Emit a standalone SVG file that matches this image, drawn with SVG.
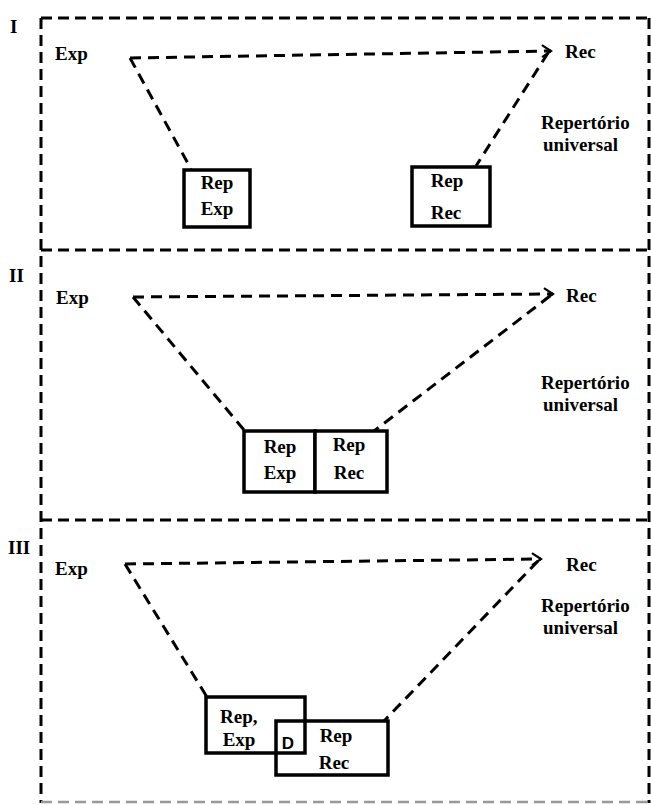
<svg xmlns="http://www.w3.org/2000/svg" width="651" height="805" viewBox="0 0 651 805">
  <style>
    .frame { fill: none; stroke: #000; stroke-width: 3; stroke-dasharray: 11 6; }
    .frame-faint { fill: none; stroke: #999; stroke-width: 2.5; stroke-dasharray: 11 6; }
    .link { fill: none; stroke: #000; stroke-width: 3; stroke-dasharray: 11 7; }
    .box { fill: #fff; stroke: #000; stroke-width: 3.5; }
    .t { font-family: "Liberation Serif", "Times New Roman", serif; font-weight: bold; font-size: 19px; fill: #000; }
    .mid { text-anchor: middle; }
    .d { font-family: "Liberation Sans", Arial, sans-serif; font-weight: bold; font-size: 17px; fill: #000; text-anchor: middle; }
  </style>
  <defs>
    <marker id="chevron" markerUnits="userSpaceOnUse" markerWidth="14" markerHeight="16" refX="10" refY="7" orient="auto">
      <path d="M1,1 L10,7 L1,13" fill="none" stroke="#000" stroke-width="2.2"/>
    </marker>
  </defs>

  <rect width="651" height="805" fill="#fff"/>

  <!-- outer frame and panel separators -->
  <g id="frame">
    <line class="frame" x1="41" y1="18" x2="649" y2="18"/>
    <line class="frame" x1="41" y1="18" x2="41" y2="803"/>
    <line class="frame" x1="649" y1="18" x2="649" y2="803"/>
    <line class="frame" x1="41" y1="250" x2="649" y2="250"/>
    <line class="frame" x1="41" y1="520" x2="649" y2="520"/>
    <line class="frame-faint" x1="41" y1="802" x2="649" y2="802"/>
  </g>

  <!-- panel numbers -->
  <g id="panel-labels">
    <text class="t" x="10" y="33" font-size="17">I</text>
    <text class="t" x="9" y="282" font-size="17">II</text>
    <text class="t" x="8" y="554" font-size="17">III</text>
  </g>

  <!-- connectors -->
  <g id="connectors">
    <!-- panel I -->
    <line class="link" x1="130" y1="58" x2="551" y2="51" marker-end="url(#chevron)"/>
    <line class="link" x1="130" y1="58" x2="191" y2="169"/>
    <line class="link" x1="548" y1="53" x2="476" y2="166"/>
    <!-- panel II -->
    <line class="link" x1="133" y1="297" x2="553" y2="294" marker-end="url(#chevron)"/>
    <line class="link" x1="133" y1="297" x2="244" y2="430"/>
    <line class="link" x1="550" y1="296" x2="374" y2="431"/>
    <!-- panel III -->
    <line class="link" x1="125" y1="564" x2="541" y2="559" marker-end="url(#chevron)"/>
    <line class="link" x1="125" y1="564" x2="207" y2="697"/>
    <line class="link" x1="538" y1="561" x2="384" y2="721"/>
  </g>

  <!-- panel I -->
  <g id="p1-exp"><text class="t" x="55" y="60">Exp</text></g>
  <g id="p1-rec"><text class="t" x="565" y="58">Rec</text></g>
  <g id="p1-universal">
    <text class="t" x="541" y="129">Repertório</text>
    <text class="t" x="543" y="151">universal</text>
  </g>
  <g id="p1-rep-exp">
    <rect class="box" x="184" y="170" width="66" height="57"/>
    <text class="t mid" x="217" y="189">Rep</text>
    <text class="t mid" x="217" y="215">Exp</text>
  </g>
  <g id="p1-rep-rec">
    <rect class="box" x="412" y="167" width="78" height="59"/>
    <text class="t mid" x="447" y="187">Rep</text>
    <text class="t mid" x="446" y="219">Rec</text>
  </g>

  <!-- panel II -->
  <g id="p2-exp"><text class="t" x="56" y="304">Exp</text></g>
  <g id="p2-rec"><text class="t" x="566" y="302">Rec</text></g>
  <g id="p2-universal">
    <text class="t" x="541" y="389">Repertório</text>
    <text class="t" x="543" y="411">universal</text>
  </g>
  <g id="p2-rep-exp">
    <rect class="box" x="244" y="431" width="71" height="61"/>
    <text class="t mid" x="280" y="453">Rep</text>
    <text class="t mid" x="280" y="479">Exp</text>
  </g>
  <g id="p2-rep-rec">
    <rect class="box" x="315" y="431" width="72" height="61"/>
    <text class="t mid" x="349" y="451">Rep</text>
    <text class="t mid" x="349" y="479">Rec</text>
  </g>

  <!-- panel III -->
  <g id="p3-exp"><text class="t" x="55" y="575">Exp</text></g>
  <g id="p3-rec"><text class="t" x="566" y="571">Rec</text></g>
  <g id="p3-universal">
    <text class="t" x="541" y="612">Repertório</text>
    <text class="t" x="543" y="634">universal</text>
  </g>
  <g id="p3-rep-exp">
    <rect class="box" x="206" y="697" width="99" height="56"/>
    <text class="t" x="220" y="723">Rep,</text>
    <text class="t mid" x="239" y="746">Exp</text>
  </g>
  <g id="p3-rep-rec">
    <path class="box" d="M305,721 H388 V775 H276 V753"/>
    <text class="t mid" x="336" y="742">Rep</text>
    <text class="t mid" x="334" y="769">Rec</text>
  </g>
  <g id="p3-overlap">
    <rect x="276" y="721" width="29" height="32" fill="none" stroke="#000" stroke-width="3.5"/>
    <text class="d" x="288" y="749">D</text>
  </g>
</svg>
